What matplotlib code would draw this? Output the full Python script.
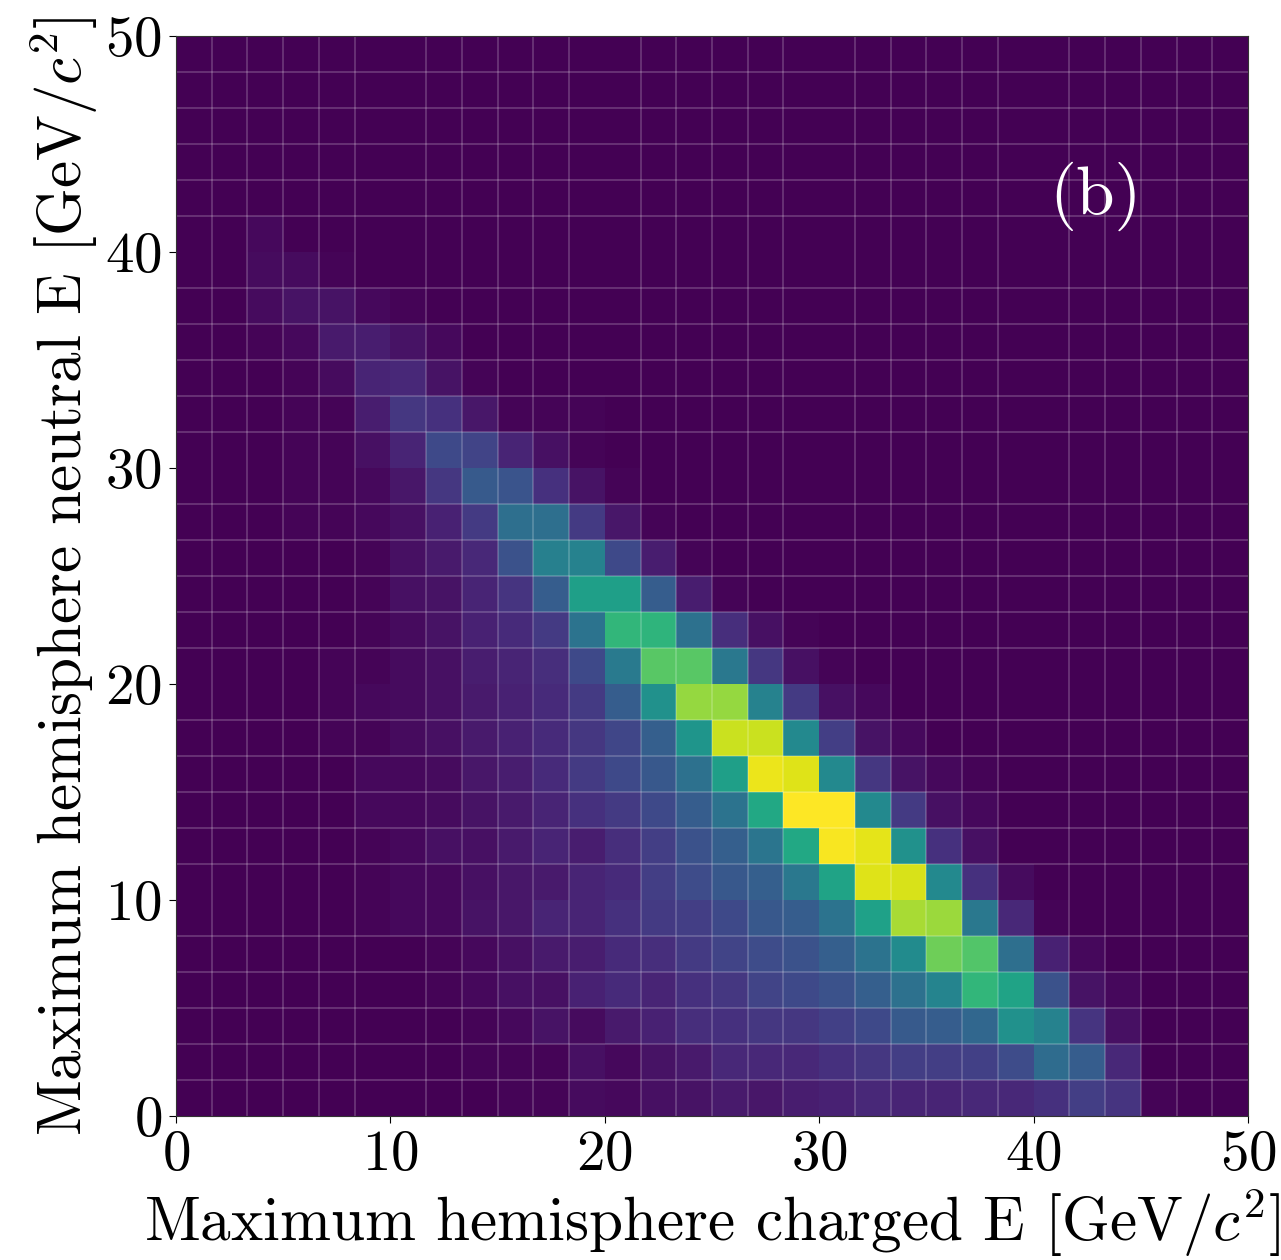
import numpy as np
import matplotlib
matplotlib.use('Agg')
import matplotlib.pyplot as plt

plt.rcParams['font.family'] = 'serif'
plt.rcParams['font.serif'] = ['cmr10', 'DejaVu Serif']
plt.rcParams['mathtext.fontset'] = 'cm'
plt.rcParams['axes.unicode_minus'] = False
plt.rcParams['axes.formatter.use_mathtext'] = True

# bin counts (relative, max = 100), rows listed from top (neutral E ~ 50) to bottom (neutral E ~ 0)
# columns: charged E bins from 0 to 50
counts_top_down = [
    [0]*30,
    [0]*30,
    [0]*30,
    [0]*30,
    [0]*30,
    [0, 0, 2, 0, 0, 0, 0, 0, 0, 0, 0, 0, 0, 0, 0, 0, 0, 0, 0, 0, 0, 0, 0, 0, 0, 0, 0, 0, 0, 0],
    [0, 0, 3, 3, 1, 0, 0, 0, 0, 0, 0, 0, 0, 0, 0, 0, 0, 0, 0, 0, 0, 0, 0, 0, 0, 0, 0, 0, 0, 0],
    [0, 0, 3, 5, 5, 2, 1, 0, 0, 0, 0, 0, 0, 0, 0, 0, 0, 0, 0, 0, 0, 0, 0, 0, 0, 0, 0, 0, 0, 0],
    [0, 0, 1, 2, 7, 8, 5, 2, 0, 0, 0, 0, 0, 0, 0, 0, 0, 0, 0, 0, 0, 0, 0, 0, 0, 0, 0, 0, 0, 0],
    [0, 0, 0, 1, 3, 10, 11, 5, 1, 0, 0, 0, 0, 0, 0, 0, 0, 0, 0, 0, 0, 0, 0, 0, 0, 0, 0, 0, 0, 0],
    [0, 0, 0, 1, 1, 8, 16, 14, 6, 1, 1, 1, 0, 0, 0, 0, 0, 0, 0, 0, 0, 0, 0, 0, 0, 0, 0, 0, 0, 0],
    [0, 0, 0, 1, 1, 4, 10, 22, 20, 10, 4, 1, 0, 0, 0, 0, 0, 0, 0, 0, 0, 0, 0, 0, 0, 0, 0, 0, 0, 0],
    [0, 0, 0, 1, 1, 2, 6, 16, 28, 26, 14, 5, 1, 0, 0, 0, 0, 0, 0, 0, 0, 0, 0, 0, 0, 0, 0, 0, 0, 0],
    [0, 0, 0, 1, 1, 2, 4, 9, 17, 36, 36, 17, 6, 1, 0, 0, 0, 0, 0, 0, 0, 0, 0, 0, 0, 0, 0, 0, 0, 0],
    [0, 0, 0, 0, 0, 1, 4, 7, 11, 25, 43, 44, 22, 8, 1, 0, 0, 0, 0, 0, 0, 0, 0, 0, 0, 0, 0, 0, 0, 0],
    [0, 0, 0, 0, 0, 1, 4, 5, 10, 15, 29, 56, 56, 29, 8, 1, 0, 0, 0, 0, 0, 0, 0, 0, 0, 0, 0, 0, 0, 0],
    [0, 0, 0, 0, 0, 1, 3, 5, 9, 12, 17, 38, 66, 65, 37, 13, 4, 1, 0, 0, 0, 0, 0, 0, 0, 0, 0, 0, 0, 0],
    [0, 0, 0, 0, 1, 1, 3, 4, 8, 10, 13, 22, 41, 74, 74, 40, 16, 4, 1, 0, 0, 0, 0, 0, 0, 0, 0, 0, 0, 0],
    [0, 0, 0, 0, 1, 2, 3, 4, 7, 9, 12, 17, 29, 50, 84, 84, 44, 17, 4, 2, 0, 0, 0, 0, 0, 0, 0, 0, 0, 0],
    [0, 0, 0, 0, 1, 1, 3, 4, 7, 9, 12, 16, 21, 30, 52, 92, 92, 47, 18, 5, 2, 0, 0, 0, 0, 0, 0, 0, 0, 0],
    [0, 0, 0, 0, 0, 2, 2, 3, 6, 8, 12, 17, 22, 27, 37, 56, 97, 95, 47, 16, 5, 2, 1, 0, 0, 0, 0, 0, 0, 0],
    [0, 0, 0, 0, 0, 2, 2, 3, 5, 7, 10, 14, 17, 22, 29, 38, 60, 100, 100, 47, 17, 4, 2, 0, 0, 0, 0, 0, 0, 0],
    [0, 0, 0, 0, 0, 1, 2, 4, 4, 7, 10, 8, 13, 18, 25, 30, 39, 60, 99, 96, 50, 14, 4, 0, 0, 0, 0, 0, 0, 0],
    [0, 0, 0, 0, 0, 1, 2, 2, 4, 6, 7, 10, 12, 18, 23, 27, 30, 40, 58, 95, 94, 47, 14, 3, 0, 0, 0, 0, 0, 0],
    [0, 0, 0, 0, 0, 1, 2, 2, 5, 6, 10, 10, 14, 17, 18, 22, 27, 29, 38, 57, 87, 85, 40, 11, 1, 0, 0, 0, 0, 0],
    [0, 0, 0, 0, 0, 0, 0, 1, 2, 4, 7, 8, 12, 13, 17, 20, 23, 25, 30, 38, 48, 78, 73, 36, 9, 2, 0, 0, 0, 0],
    [0, 0, 0, 0, 0, 0, 0, 1, 2, 4, 4, 9, 12, 10, 14, 16, 20, 22, 25, 30, 37, 45, 66, 58, 25, 5, 2, 0, 0, 0],
    [0, 0, 0, 0, 0, 0, 0, 0, 1, 2, 5, 3, 7, 9, 13, 14, 16, 16, 19, 22, 28, 29, 33, 50, 44, 15, 4, 0, 0, 0],
    [0, 0, 0, 0, 0, 0, 0, 0, 1, 1, 1, 4, 2, 5, 7, 11, 11, 11, 14, 16, 18, 18, 19, 23, 35, 29, 11, 0, 0, 0],
    [0, 0, 0, 0, 0, 0, 0, 0, 0, 1, 1, 3, 2, 4, 5, 7, 6, 8, 9, 11, 10, 10, 11, 11, 14, 18, 15, 1, 0, 0],
]
e_min, e_max, n_bins = 0, 50, 30
ticks = [0, 10, 20, 30, 40, 50]

H = np.array(counts_top_down, dtype=float)[::-1]  # row 0 = lowest neutral E bin
edges = np.linspace(e_min, e_max, n_bins + 1)

fig = plt.figure(figsize=(12.81, 12.60), dpi=100)
ax = fig.add_axes([176/1281, 1 - 1116/1260, 1072/1281, 1080/1260])

ax.pcolormesh(edges, edges, H, cmap='viridis', vmin=0, vmax=100)

# faint grid along the bin edges
ax.set_xticks(edges, minor=True)
ax.set_yticks(edges, minor=True)
ax.grid(which='minor', color='white', alpha=0.22, lw=1.2)
ax.tick_params(which='minor', length=0)

ax.set_xlim(e_min, e_max)
ax.set_ylim(e_min, e_max)
ax.set_xticks(ticks)
ax.set_yticks(ticks)
ax.tick_params(which='major', labelsize=41, length=5, pad=5)

ax.set_xlabel(r'Maximum hemisphere charged E [GeV/$c^2$]', fontsize=44, labelpad=4)
ax.set_ylabel(r'Maximum hemisphere neutral E [GeV/$c^2$]', fontsize=44, labelpad=4)

ax.text(42.9, 42.6, '(b)', color='white', fontsize=50, ha='center', va='center')

for s in ax.spines.values():
    s.set_color('#333333')

fig.savefig('out.png', dpi=100)
